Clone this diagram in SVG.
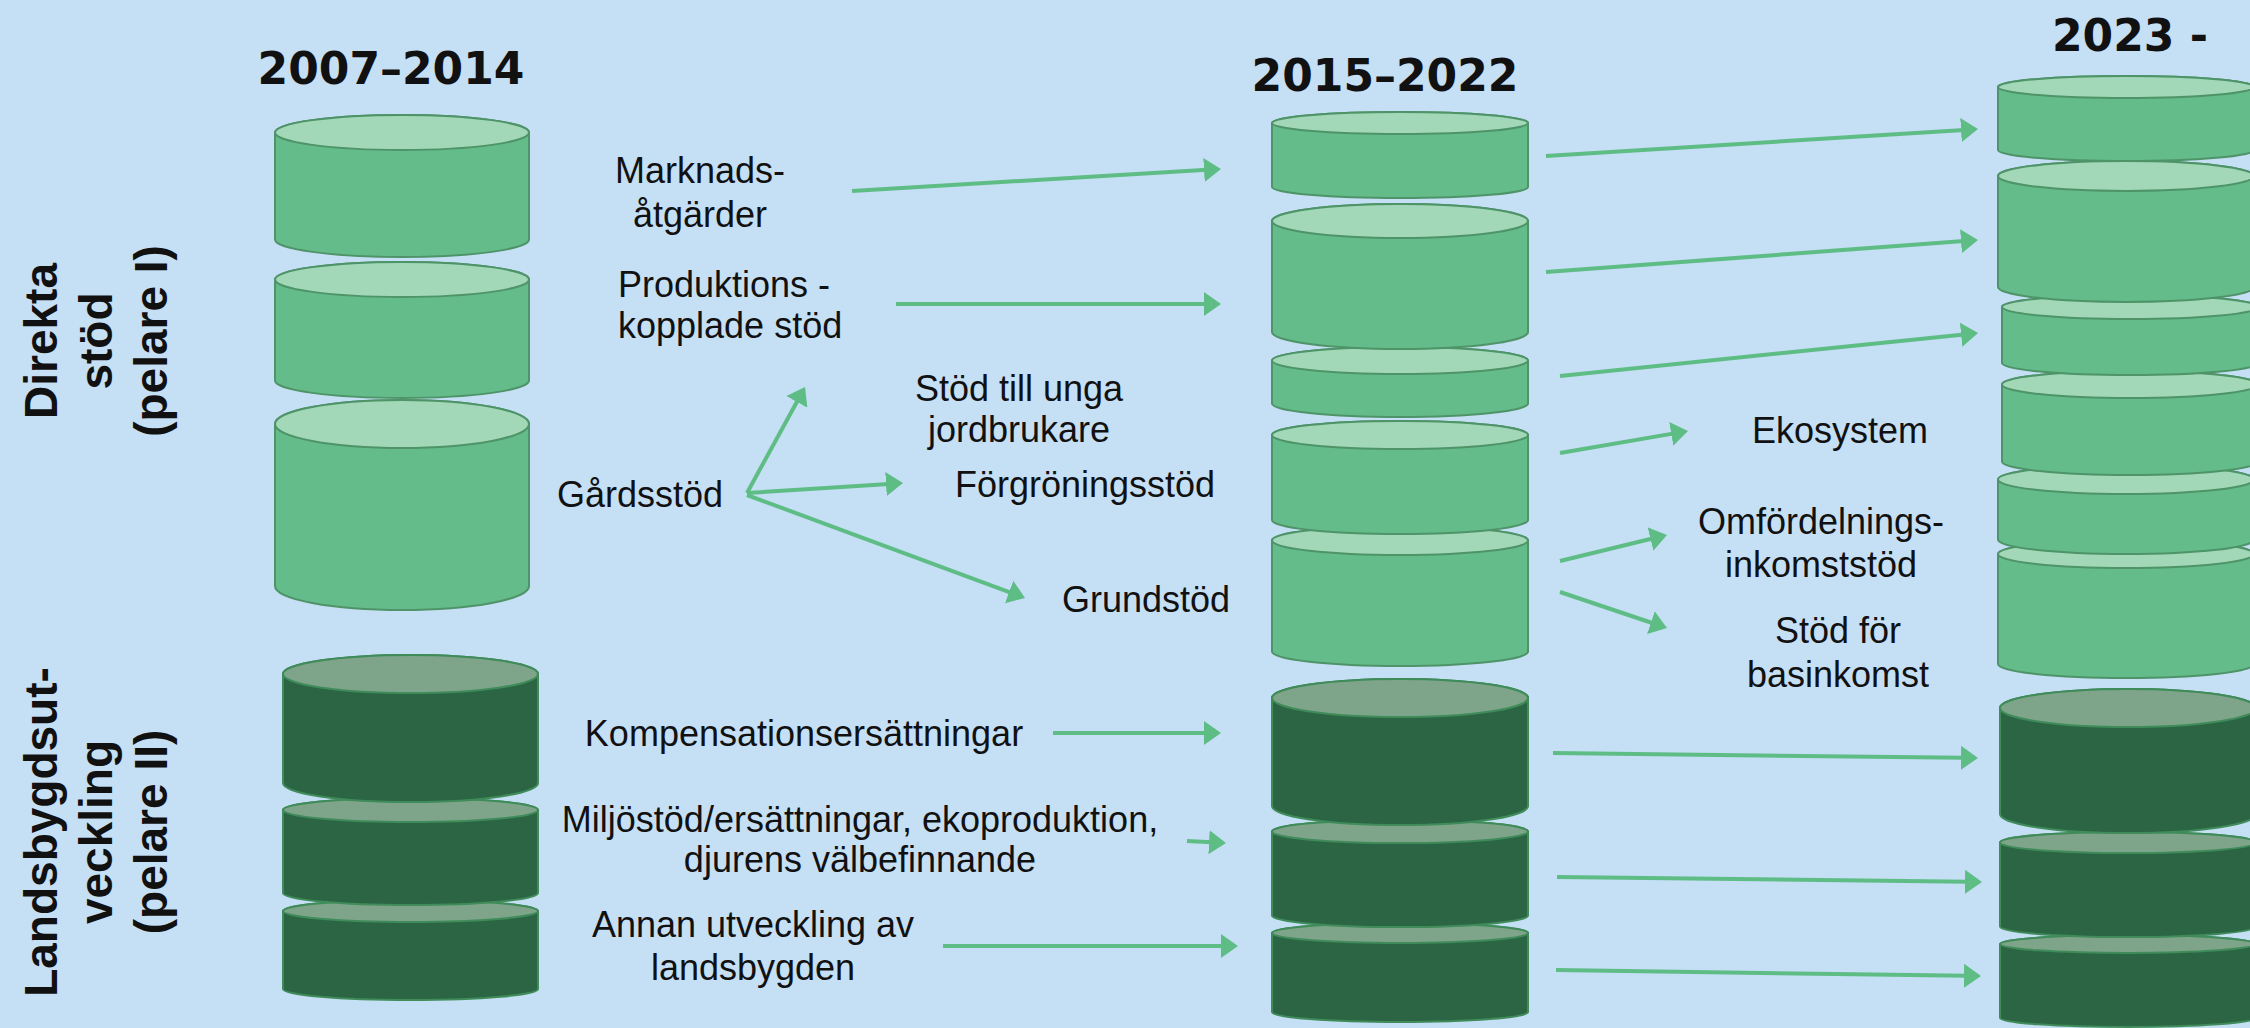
<svg xmlns="http://www.w3.org/2000/svg" width="2250" height="1028" viewBox="0 0 2250 1028">
<style>
.bl{fill:#63BC89;stroke:#4E9468;stroke-width:2}
.tl{fill:#A2D8B8;stroke:#4E9468;stroke-width:2}
.bd{fill:#2B6543;stroke:#3F8B59;stroke-width:2}
.td{fill:#7EA48A;stroke:#3F8B59;stroke-width:2}
.lbl{font-family:"Liberation Sans",Arial,sans-serif;font-size:36px;fill:#111;text-anchor:middle}
.ttl{font-family:"DejaVu Sans",Verdana,sans-serif;font-weight:bold;font-size:44px;fill:#111}
.side{font-family:"Liberation Sans",Arial,sans-serif;font-weight:bold;font-size:46px;fill:#111;text-anchor:middle}
.arr{stroke:#5EBD85;stroke-width:4;fill:none;marker-end:url(#ah)}
</style>
<defs>
<marker id="ah" markerUnits="userSpaceOnUse" markerWidth="18" markerHeight="24" viewBox="0 0 18 24" refX="3" refY="12" orient="auto">
<path d="M0,0 L17,12 L0,24 Z" fill="#5EBD85"/>
</marker>
</defs>
<rect x="0" y="0" width="2250" height="1028" fill="#C5DFF5"/>

<!-- titles -->
<g id="titles">
<text class="ttl" x="391" y="84" text-anchor="middle">2007–2014</text>
<text class="ttl" x="1385" y="91" text-anchor="middle">2015–2022</text>
<text class="ttl" x="2052" y="51">2023 -</text>
</g>

<!-- side labels -->
<g id="pelare1">
<text class="side" transform="translate(57,341) rotate(-90)">Direkta</text>
<text class="side" transform="translate(112,341) rotate(-90)">stöd</text>
<text class="side" transform="translate(167,341) rotate(-90)">(pelare I)</text>
</g>
<g id="pelare2">
<text class="side" transform="translate(57,832) rotate(-90)">Landsbygdsut-</text>
<text class="side" transform="translate(112,832) rotate(-90)">veckling</text>
<text class="side" transform="translate(167,832) rotate(-90)">(pelare II)</text>
</g>

<!-- column 1 -->
<g id="col1">
<g id="c1-d3"><path class="bd" d="M283 911 V989 A127.5 11 0 0 0 538 989 V911 A127.5 11 0 0 0 283 911 Z"/><ellipse class="td" cx="410.5" cy="911" rx="127.5" ry="11"/></g>
<g id="c1-d2"><path class="bd" d="M283 810 V893 A127.5 12 0 0 0 538 893 V810 A127.5 12 0 0 0 283 810 Z"/><ellipse class="td" cx="410.5" cy="810" rx="127.5" ry="12"/></g>
<g id="c1-d1"><path class="bd" d="M283 674 V783 A127.5 19 0 0 0 538 783 V674 A127.5 19 0 0 0 283 674 Z"/><ellipse class="td" cx="410.5" cy="674" rx="127.5" ry="19"/></g>
<g id="c1-l3"><path class="bl" d="M275 424 V586 A127 24 0 0 0 529 586 V424 A127 24 0 0 0 275 424 Z"/><ellipse class="tl" cx="402" cy="424" rx="127" ry="24"/></g>
<g id="c1-l2"><path class="bl" d="M275 279.5 V380.5 A127 17.5 0 0 0 529 380.5 V279.5 A127 17.5 0 0 0 275 279.5 Z"/><ellipse class="tl" cx="402" cy="279.5" rx="127" ry="17.5"/></g>
<g id="c1-l1"><path class="bl" d="M275 132.5 V239.5 A127 17.5 0 0 0 529 239.5 V132.5 A127 17.5 0 0 0 275 132.5 Z"/><ellipse class="tl" cx="402" cy="132.5" rx="127" ry="17.5"/></g>
</g>

<!-- column 2 -->
<g id="col2">
<g id="c2-d3"><path class="bd" d="M1272 933 V1012 A128 10 0 0 0 1528 1012 V933 A128 10 0 0 0 1272 933 Z"/><ellipse class="td" cx="1400" cy="933" rx="128" ry="10"/></g>
<g id="c2-d2"><path class="bd" d="M1272 831.5 V915.5 A128 11.5 0 0 0 1528 915.5 V831.5 A128 11.5 0 0 0 1272 831.5 Z"/><ellipse class="td" cx="1400" cy="831.5" rx="128" ry="11.5"/></g>
<g id="c2-d1"><path class="bd" d="M1272 698 V806 A128 19 0 0 0 1528 806 V698 A128 19 0 0 0 1272 698 Z"/><ellipse class="td" cx="1400" cy="698" rx="128" ry="19"/></g>
<g id="c2-l5"><path class="bl" d="M1272 540.5 V651.5 A128 14.5 0 0 0 1528 651.5 V540.5 A128 14.5 0 0 0 1272 540.5 Z"/><ellipse class="tl" cx="1400" cy="540.5" rx="128" ry="14.5"/></g>
<g id="c2-l4"><path class="bl" d="M1272 435 V520 A128 14 0 0 0 1528 520 V435 A128 14 0 0 0 1272 435 Z"/><ellipse class="tl" cx="1400" cy="435" rx="128" ry="14"/></g>
<g id="c2-l3"><path class="bl" d="M1272 360.5 V403.5 A128 13.5 0 0 0 1528 403.5 V360.5 A128 13.5 0 0 0 1272 360.5 Z"/><ellipse class="tl" cx="1400" cy="360.5" rx="128" ry="13.5"/></g>
<g id="c2-l2"><path class="bl" d="M1272 221 V332 A128 17 0 0 0 1528 332 V221 A128 17 0 0 0 1272 221 Z"/><ellipse class="tl" cx="1400" cy="221" rx="128" ry="17"/></g>
<g id="c2-l1"><path class="bl" d="M1272 123 V187 A128 11 0 0 0 1528 187 V123 A128 11 0 0 0 1272 123 Z"/><ellipse class="tl" cx="1400" cy="123" rx="128" ry="11"/></g>
</g>

<!-- column 3 -->
<g id="col3">
<g id="c3-d3"><path class="bd" d="M2000 944 V1018 A128 9 0 0 0 2256 1018 V944 A128 9 0 0 0 2000 944 Z"/><ellipse class="td" cx="2128" cy="944" rx="128" ry="9"/></g>
<g id="c3-d2"><path class="bd" d="M2000 842.5 V926.5 A128 10.5 0 0 0 2256 926.5 V842.5 A128 10.5 0 0 0 2000 842.5 Z"/><ellipse class="td" cx="2128" cy="842.5" rx="128" ry="10.5"/></g>
<g id="c3-d1"><path class="bd" d="M2000 708 V814 A128 19 0 0 0 2256 814 V708 A128 19 0 0 0 2000 708 Z"/><ellipse class="td" cx="2128" cy="708" rx="128" ry="19"/></g>
<g id="c3-l6"><path class="bl" d="M1998 554 V664 A128 14 0 0 0 2254 664 V554 A128 14 0 0 0 1998 554 Z"/><ellipse class="tl" cx="2126" cy="554" rx="128" ry="14"/></g>
<g id="c3-l5"><path class="bl" d="M1998 479.5 V539.5 A128 14.5 0 0 0 2254 539.5 V479.5 A128 14.5 0 0 0 1998 479.5 Z"/><ellipse class="tl" cx="2126" cy="479.5" rx="128" ry="14.5"/></g>
<g id="c3-l4"><path class="bl" d="M2002 384.5 V461.5 A128 13.5 0 0 0 2258 461.5 V384.5 A128 13.5 0 0 0 2002 384.5 Z"/><ellipse class="tl" cx="2130" cy="384.5" rx="128" ry="13.5"/></g>
<g id="c3-l3"><path class="bl" d="M2002 307 V363 A128 12 0 0 0 2258 363 V307 A128 12 0 0 0 2002 307 Z"/><ellipse class="tl" cx="2130" cy="307" rx="128" ry="12"/></g>
<g id="c3-l2"><path class="bl" d="M1998 176 V287 A128 15 0 0 0 2254 287 V176 A128 15 0 0 0 1998 176 Z"/><ellipse class="tl" cx="2126" cy="176" rx="128" ry="15"/></g>
<g id="c3-l1"><path class="bl" d="M1998 87 V150 A128 11 0 0 0 2254 150 V87 A128 11 0 0 0 1998 87 Z"/><ellipse class="tl" cx="2126" cy="87" rx="128" ry="11"/></g>
</g>

<!-- labels -->
<g id="lbl-marknad"><text class="lbl" x="700" y="183">Marknads-</text><text class="lbl" x="700" y="227">åtgärder</text></g>
<g id="lbl-produktion"><text class="lbl" x="618" y="297" text-anchor="start" style="text-anchor:start">Produktions -</text><text class="lbl" x="618" y="338" style="text-anchor:start">kopplade stöd</text></g>
<g id="lbl-unga"><text class="lbl" x="1019" y="401">Stöd till unga</text><text class="lbl" x="1019" y="442">jordbrukare</text></g>
<g id="lbl-forgroning"><text class="lbl" x="1085" y="497">Förgröningsstöd</text></g>
<g id="lbl-grund"><text class="lbl" x="1146" y="612">Grundstöd</text></g>
<g id="lbl-gard"><text class="lbl" x="640" y="507">Gårdsstöd</text></g>
<g id="lbl-komp"><text class="lbl" x="804" y="746">Kompensationsersättningar</text></g>
<g id="lbl-miljo"><text class="lbl" x="860" y="832">Miljöstöd/ersättningar, ekoproduktion,</text><text class="lbl" x="860" y="872">djurens välbefinnande</text></g>
<g id="lbl-annan"><text class="lbl" x="753" y="937">Annan utveckling av</text><text class="lbl" x="753" y="980">landsbygden</text></g>
<g id="lbl-eko"><text class="lbl" x="1840" y="443">Ekosystem</text></g>
<g id="lbl-omf"><text class="lbl" x="1821" y="534">Omfördelnings-</text><text class="lbl" x="1821" y="577">inkomststöd</text></g>
<g id="lbl-bas"><text class="lbl" x="1838" y="643">Stöd för</text><text class="lbl" x="1838" y="687">basinkomst</text></g>

<!-- connectors -->
<g id="connectors">
<line class="arr" x1="852" y1="191" x2="1207" y2="169.8"/>
<line class="arr" x1="896" y1="304" x2="1207" y2="304"/>
<line class="arr" x1="747" y1="493" x2="798.3" y2="399.3"/>
<line class="arr" x1="747" y1="493" x2="889" y2="483.9"/>
<line class="arr" x1="747" y1="495" x2="1011.9" y2="593.1"/>
<line class="arr" x1="1053" y1="733" x2="1207" y2="733"/>
<line class="arr" x1="1187" y1="841" x2="1212" y2="842.3"/>
<line class="arr" x1="943" y1="946" x2="1224" y2="946"/>
<line class="arr" x1="1546" y1="156" x2="1964" y2="129.9"/>
<line class="arr" x1="1546" y1="272" x2="1964" y2="241"/>
<line class="arr" x1="1560" y1="376" x2="1964.1" y2="334.4"/>
<line class="arr" x1="1560" y1="453" x2="1674.2" y2="433.4"/>
<line class="arr" x1="1560" y1="561" x2="1653.4" y2="538.3"/>
<line class="arr" x1="1560" y1="592" x2="1653.7" y2="623.5"/>
<line class="arr" x1="1553" y1="753" x2="1964" y2="757.8"/>
<line class="arr" x1="1557" y1="877" x2="1968" y2="881.8"/>
<line class="arr" x1="1556" y1="970" x2="1967" y2="975.8"/>
</g>
</svg>
